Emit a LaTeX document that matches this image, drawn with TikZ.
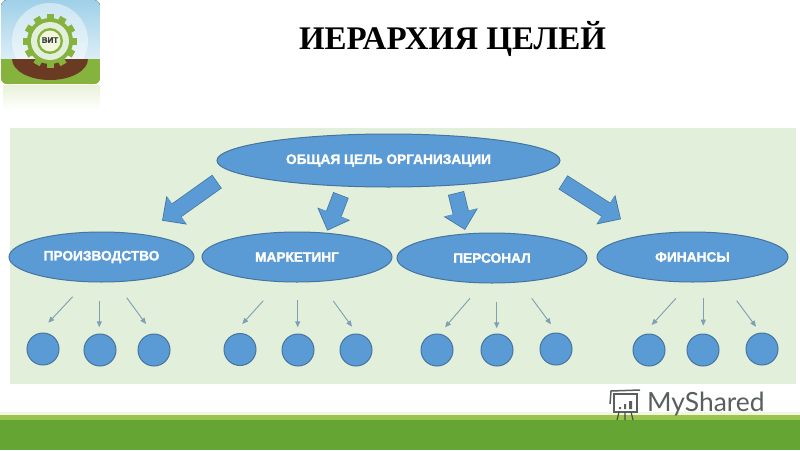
\documentclass[tikz,border=0pt]{standalone}
\usepackage{fontspec}
\setmainfont{Liberation Serif}
\setsansfont{Liberation Sans}[BoldFeatures={FakeBold=1.6}]
\newfontfamily\markfont{Lato}
\usepackage{tikz}
\usetikzlibrary{arrows.meta,shapes.geometric}
\definecolor{PanelGreen}{HTML}{E2EFDA}
\definecolor{BlueFill}{HTML}{5B9BD5}
\definecolor{BlueEdge}{HTML}{44749F}
\definecolor{ThinGrey}{HTML}{7E9FB4}
\definecolor{BarDark}{HTML}{65A534}
\definecolor{BarLight}{HTML}{9BC44F}
\definecolor{BarCream}{HTML}{F2F6DC}
\definecolor{GearGreen}{HTML}{86B23E}
\definecolor{SoilBrown}{HTML}{6B3A22}
\definecolor{SkyBlue}{HTML}{9FD0E8}
\definecolor{MarkGrey}{HTML}{595F5F}
\tikzset{
  goalbox/.style={ellipse,draw=BlueEdge,fill=BlueFill,line width=1pt,inner sep=0pt,
    text=white,font=\sffamily\bfseries\fontsize{13.7}{15}\selectfont},
  leafbox/.style={circle,draw=BlueEdge,fill=BlueFill,line width=1pt,inner sep=0pt,minimum size=32pt},
  thinarrow/.style={draw=ThinGrey,line width=0.9pt,-{Triangle[length=6pt,width=5pt]}},
  blockedge/.style={draw=BlueEdge,line width=16.5pt,-{Triangle[length=18pt,width=34pt]}},
  blockfill/.style={draw=BlueFill,line width=15pt,shorten >=1pt,shorten <=0.7pt,-{Triangle[length=17pt,width=31.5pt]}}
}
\begin{document}
\begin{tikzpicture}[x=1pt,y=-1pt]
  \useasboundingbox (0,0) rectangle (800,450);
  \fill[white] (0,0) rectangle (800,450);
  % Footer bars
  \fill[BarCream] (0,412) rectangle (800,415);
  \fill[BarLight] (0,415) rectangle (800,420);
  \fill[BarDark] (0,420) rectangle (800,450);
  % Panel
  \fill[PanelGreen] (10,128) rectangle (796,384);
  % Logo
  \fill[top color=BarLight!22,bottom color=white] (3,85) rectangle (100,110);
  \begin{scope}
    \clip[rounded corners=6pt] (1,0) rectangle (100,84);
    \fill[top color=SkyBlue,bottom color=SkyBlue!35] (1,0) rectangle (100,60);
    \fill[GearGreen] (1,59) rectangle (100,84);
    \fill[white,opacity=0.45] (50,41) circle (38);
    \fill[GearGreen] (1,59) rectangle (12,84) (88,59) rectangle (100,84);
    \fill[SoilBrown] (12,59) arc[start angle=180,end angle=0,x radius=38,y radius=21] -- cycle;
  \end{scope}
  \foreach \ang in {0,30,...,330}
    \fill[GearGreen,rotate around={\ang:(50,41)}] (46.5,14) rectangle (53.5,20);
  \fill[GearGreen] (50,41) circle (23);
  \fill[PanelGreen] (50,41) circle (19);
  \fill[GearGreen] (50,41) circle (13);
  \fill[BarCream] (50,41) circle (10.5);
  \node[font=\sffamily\bfseries\fontsize{8}{9}\selectfont,text=black!75,inner sep=0pt] (logoname) at (50,40) {ВИТ};
  % Title
  \node[font=\bfseries\fontsize{33}{36}\selectfont,inner sep=0pt] (title) at (452.5,39) {ИЕРАРХИЯ ЦЕЛЕЙ};
  % Goals
  \node[goalbox,minimum width=343pt,minimum height=53pt] (general) at (388.5,160.5) {ОБЩАЯ ЦЕЛЬ ОРГАНИЗАЦИИ};
  \node[goalbox,minimum width=185pt,minimum height=50pt] (production) at (101.5,257) {ПРОИЗВОДСТВО};
  \node[goalbox,minimum width=190pt,minimum height=50pt] (marketing) at (297,257) {МАРКЕТИНГ};
  \node[goalbox,minimum width=190pt,minimum height=50pt] (personnel) at (492,258) {ПЕРСОНАЛ};
  \node[goalbox,minimum width=191pt,minimum height=50pt] (finance) at (692.5,257) {ФИНАНСЫ};
  % Block arrows
  \foreach \nm/\xa/\ya/\xb/\yb in {a/217/181.5/162/220.7,b/341/195/327.3/230.7,c/456/193/465/230,d/563/182.3/621/219.3}{
    \coordinate (\nm tail) at (\xa,\ya);
    \coordinate (\nm tip) at (\xb,\yb);
    \draw[blockedge] (\nm tail) -- (\nm tip);
    \draw[blockfill] (\nm tail) -- (\nm tip);
  }
  % Leaf circles
  \foreach \nm/\xc/\yc in {p1/43/349,p2/100/350,p3/154/350,m1/240/349.5,m2/298/350,m3/356/350,
      s1/437/350,s2/497/350,s3/556/349,f1/649/350,f2/703/350,f3/762/349}
    \node[leafbox] (\nm) at (\xc,\yc) {};
  % Thin arrows
  \foreach \nm/\xa/\ya/\xb/\yb in {p1/72.7/296.7/48.3/322.7,p2/99.3/300.7/99.3/327.3,p3/126.7/297.7/146/324,
      m1/263.3/300.7/242.3/324,m2/297.7/300/297.7/327.3,m3/333.3/301/352/326.7,
      s1/470/298.3/445/327.3,s2/496.7/301.7/496.7/328.3,s3/531.7/298.3/551/324.3,
      f1/676/298.3/651.7/325,f2/703.3/298.3/703.3/325.7,f3/736.7/300.7/756/326.7}{
    \coordinate (\nm from) at (\xa,\ya);
    \coordinate (\nm to) at (\xb,\yb);
    \draw[thinarrow] (\nm from) -- (\nm to);
  }
  % Watermark
  \draw[MarkGrey,line width=1.5pt,fill=white] (614,394) rectangle (637,412);
  \draw[MarkGrey,line width=1.5pt] (610,404) -- (611,391) -- (640,390);
  \fill[MarkGrey] (619,407) rectangle (621,409) (624,404) rectangle (626,409) (629,401) rectangle (632,409);
  \draw[black!70,line width=1.2pt] (619,412) -- (617,420) (625,412) -- (625,420) (631,412) -- (633,420);
  \node[font=\markfont\fontsize{26.4}{30}\selectfont,text=MarkGrey,inner sep=0pt,anchor=west] (myshared) at (647,404) {MyShared};
\end{tikzpicture}
\end{document}
